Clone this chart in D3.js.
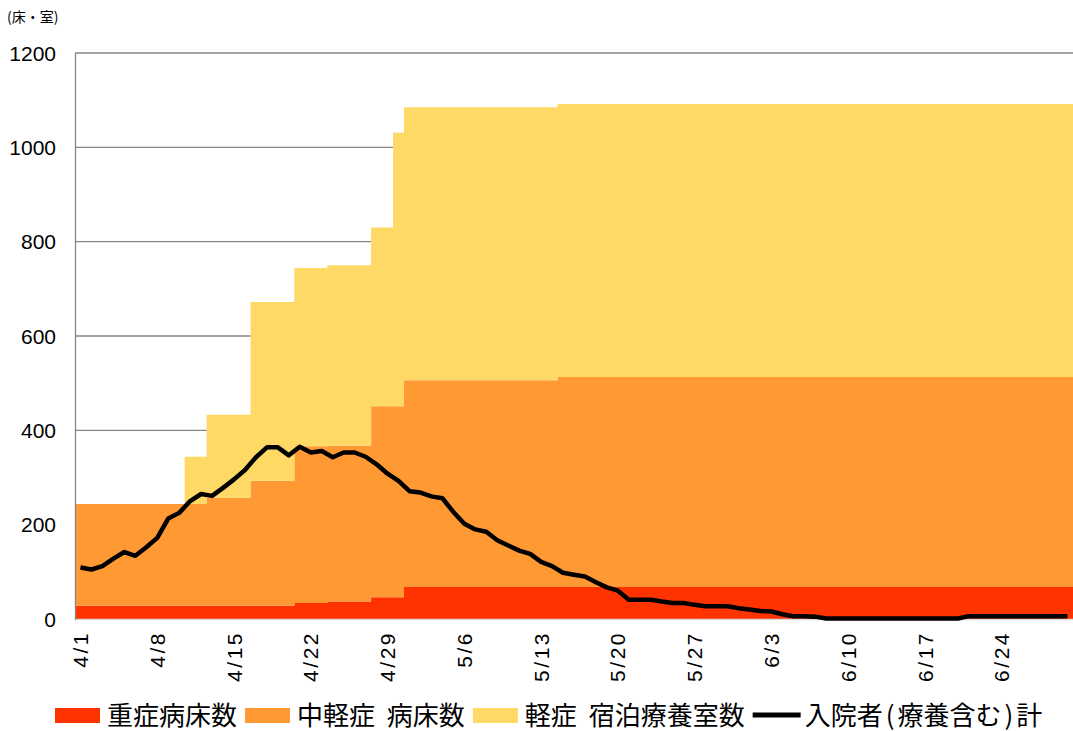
<!DOCTYPE html>
<html>
<head>
<meta charset="utf-8">
<script src="https://cdn.jsdelivr.net/npm/d3@7"></script>
<style>
  body { margin: 0; background: #fff; }
</style>
</head>
<body>
<div id="chart"></div>
<script>
// 4/1 .. 6/30, one category per day
const days = d3.timeDay.range(new Date(2020, 3, 1), new Date(2020, 6, 1)).map(d3.timeFormat("%-m/%-d"));
const tickLabels = ["4/1", "4/8", "4/15", "4/22", "4/29", "5/6", "5/13", "5/20", "5/27", "6/3", "6/10", "6/17", "6/24"];
const yTicks = [0, 200, 400, 600, 800, 1000, 1200];

// 重症病床数
const severe = [
  28, 28, 28, 28, 28, 28, 28, 28, 28, 28, 28, 28, 28, 28, 28, 28, 28, 28, 28, 28,
  34, 34, 34, 37, 37, 37, 37, 46, 46, 46,
  68, 68, 68, 68, 68, 68, 68, 68, 68, 68, 68, 68, 68, 68, 68, 68, 68, 68, 68, 68,
  68, 68, 68, 68, 68, 68, 68, 68, 68, 68, 68,
  68, 68, 68, 68, 68, 68, 68, 68, 68, 68, 68, 68, 68, 68, 68, 68, 68, 68, 68, 68,
  68, 68, 68, 68, 68, 68, 68, 68, 68, 68
];
// 中軽症 病床数
const moderate = [
  216, 216, 216, 216, 216, 216, 216, 216, 216, 216, 216, 216,
  229, 229, 229, 229, 265, 265, 265, 265,
  332, 332, 332, 331, 331, 331, 331, 405, 405, 405,
  438, 438, 438, 438, 438, 438, 438, 438, 438, 438, 438, 438, 438, 438,
  445, 445, 445, 445, 445, 445, 445, 445, 445, 445, 445, 445, 445, 445, 445, 445, 445,
  445, 445, 445, 445, 445, 445, 445, 445, 445, 445, 445, 445, 445, 445, 445,
  445, 445, 445, 445, 445, 445, 445, 445, 445, 445, 445, 445, 445, 445, 445
];
// 軽症 宿泊療養室数
const hotel = [
  0, 0, 0, 0, 0, 0, 0, 0, 0, 0,
  100, 100, 176, 176, 176, 176, 379, 379, 379, 379,
  378, 378, 378, 382, 382, 382, 382, 379, 379, 580,
  579, 579, 579, 579, 579, 579, 579, 579, 579, 579, 579, 579, 579, 579,
  579, 579, 579, 579, 579, 579, 579, 579, 579, 579, 579, 579, 579, 579, 579, 579, 579,
  579, 579, 579, 579, 579, 579, 579, 579, 579, 579, 579, 579, 579, 579, 579,
  579, 579, 579, 579, 579, 579, 579, 579, 579, 579, 579, 579, 579, 579, 579
];
// 入院者(療養含む)計
const inpatients = [
  109, 105, 112, 128, 142, 134, 152, 172, 213, 225,
  250, 265, 261, 278, 296, 316, 343, 364, 364, 347,
  365, 353, 356, 343, 353, 353, 344, 328, 308, 293,
  271, 268, 260, 256, 227, 202, 190, 185, 167, 156,
  145, 138, 121, 112, 98, 94, 90, 78, 67, 60,
  41, 41, 41, 37, 34, 34, 30, 27, 27, 27, 23,
  20, 17, 16, 10, 6, 6, 5, 1, 1, 1,
  1, 1, 1, 1, 1, 1, 1, 1, 1, 1,
  6, 6, 6, 6, 6, 6, 6, 6, 6, 6
];

const seriesKeys = ["severe", "moderate", "hotel"];
const seriesNames = ["重症病床数", "中軽症 病床数", "軽症 宿泊療養室数"];
const colors = ["#FF3300", "#FF9933", "#FFD966"];
const lineName = "入院者(療養含む)計";

const width = 1073, height = 731;
const plotLeft = 75, plotRight = 1073, plotTop = 53, plotBottom = 619;

const svg = d3.select("#chart").append("svg")
    .attr("width", width)
    .attr("height", height)
    .style("font-family", "'Liberation Sans', Arial, sans-serif");

const x = d3.scaleBand().domain(days).range([plotLeft, plotRight]).padding(0);
const y = d3.scaleLinear().domain([0, 1200]).range([plotBottom, plotTop]);
const bw = x.bandwidth();

// gridlines behind the areas
svg.append("g")
  .selectAll("line")
  .data(yTicks.filter(t => t > 0))
  .join("line")
    .attr("x1", plotLeft).attr("x2", plotRight)
    .attr("y1", d => y(d)).attr("y2", d => y(d))
    .attr("stroke", "#868686")
    .attr("stroke-width", 1.3);

// stacked step areas
const rows = days.map((d, i) => ({ day: d, severe: severe[i], moderate: moderate[i], hotel: hotel[i] }));
const stacked = d3.stack().keys(seriesKeys)(rows);

const area = d3.area()
    .curve(d3.curveStepAfter)
    .x(p => p.x)
    .y0(p => y(p.v[0]))
    .y1(p => y(p.v[1]));

svg.append("g")
  .selectAll("path")
  .data(stacked)
  .join("path")
    .attr("fill", (s, i) => colors[i])
    .attr("d", s => {
      const pts = s.map(v => ({ x: x(v.data.day), v }));
      const last = s[s.length - 1];
      pts.push({ x: x(last.data.day) + bw, v: last });
      return area(pts);
    });

// axis lines
svg.append("line")
    .attr("x1", plotLeft).attr("x2", plotRight)
    .attr("y1", plotBottom + 0.5).attr("y2", plotBottom + 0.5)
    .attr("stroke", "#d9d9d9").attr("stroke-width", 1.5);
svg.append("line")
    .attr("x1", plotLeft + 0.5).attr("x2", plotLeft + 0.5)
    .attr("y1", plotTop).attr("y2", plotBottom + 1)
    .attr("stroke", "#868686").attr("stroke-width", 1.3);

// inpatient line
const line = d3.line()
    .x((v, i) => x(days[i]) + bw / 2)
    .y(v => y(v));

svg.append("path")
    .datum(inpatients)
    .attr("fill", "none")
    .attr("stroke", "#000")
    .attr("stroke-width", 4.5)
    .attr("stroke-linejoin", "round")
    .attr("d", line);

// y tick labels
svg.append("g")
  .selectAll("text")
  .data(yTicks)
  .join("text")
    .attr("x", 56)
    .attr("y", d => y(d))
    .attr("dy", "0.36em")
    .attr("text-anchor", "end")
    .attr("font-size", 21)
    .attr("fill", "#000")
    .text(d => d);

// x tick labels (rotated); wide spacing like the original font
svg.append("g")
  .selectAll("text")
  .data(tickLabels)
  .join("text")
    .attr("transform", d => `translate(${x(d) + bw / 2},631) rotate(-90)`)
    .attr("dy", "0.36em")
    .attr("text-anchor", "end")
    .attr("font-size", 21)
    .attr("letter-spacing", 2.5)
    .attr("fill", "#000")
    .text(d => d);

// unit label
svg.append("text")
    .attr("x", 7)
    .attr("y", 17)
    .attr("dy", "0.35em")
    .attr("font-size", 14)
    .attr("font-family", "'Noto Sans CJK JP', sans-serif")
    .text("(床・室)");

// legend
const legend = svg.append("g")
    .attr("font-family", "'Noto Sans CJK JP', sans-serif")
    .attr("font-size", 26)
    .attr("word-spacing", 6);
let lx = 55;
const ly = 716;
const items = seriesNames.map((n, i) => ({ name: n, color: colors[i], type: "rect" }))
    .concat([{ name: lineName, color: "#000", type: "line" }]);
items.forEach(it => {
  if (it.type === "rect") {
    legend.append("rect")
        .attr("x", lx).attr("y", ly - 8)
        .attr("width", 45).attr("height", 15)
        .attr("fill", it.color);
  } else {
    legend.append("line")
        .attr("x1", lx).attr("x2", lx + 48)
        .attr("y1", ly - 1).attr("y2", ly - 1)
        .attr("stroke", it.color).attr("stroke-width", 5);
  }
  lx += 52;
  const t = legend.append("text")
      .attr("x", lx)
      .attr("y", ly)
      .attr("dy", "0.35em");
  // split so the half-width parentheses get a little air, as in the original
  it.name.split(/([()])/).filter(s => s.length).forEach(part => {
    const sp = t.append("tspan").text(part);
    if (part === "(" || part === ")") sp.attr("dx", 3).attr("letter-spacing", 3);
  });
  lx += t.node().getComputedTextLength() + 8;
});
</script>
</body>
</html>
